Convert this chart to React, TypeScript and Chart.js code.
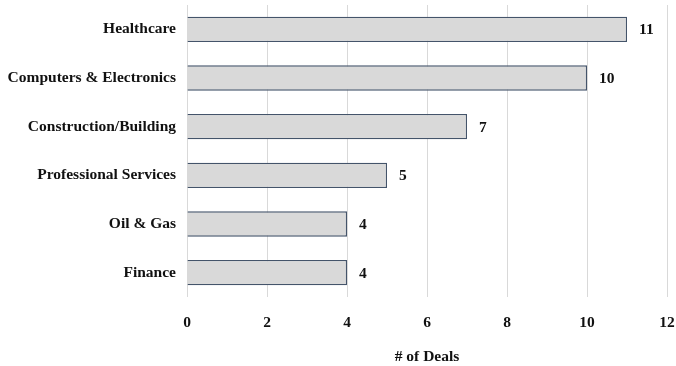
import React, { useEffect, useRef } from "react";
import { Chart, registerables } from "chart.js";

Chart.register(...registerables);

const categories = [
  "Healthcare",
  "Computers & Electronics",
  "Construction/Building",
  "Professional Services",
  "Oil & Gas",
  "Finance",
];
const deals = [11, 10, 7, 5, 4, 4];
const xTicks = [0, 2, 4, 6, 8, 10, 12];
const xTitle = "# of Deals";

const FONT = "'Liberation Serif', 'Times New Roman', serif";

const labelPlugin = {
  id: "valueLabels",
  afterDatasetsDraw(chart: any) {
    const ctx = chart.ctx;
    const meta = chart.getDatasetMeta(0);
    ctx.save();
    ctx.font = `bold 15.5px ${FONT}`;
    ctx.fillStyle = "#111111";
    ctx.textAlign = "left";
    ctx.textBaseline = "middle";
    meta.data.forEach((bar: any, i: number) => {
      ctx.fillText(String(deals[i]), bar.x + 12, bar.y + 1);
    });
    ctx.restore();
  },
};

export default function App() {
  const ref = useRef<HTMLCanvasElement | null>(null);
  useEffect(() => {
    if (!ref.current) return;
    const chart = new Chart(ref.current, {
      type: "bar",
      data: {
        labels: categories,
        datasets: [
          {
            data: deals,
            backgroundColor: "#d9d9d9",
            borderColor: "#44546a",
            borderWidth: 1.3,
            barPercentage: 0.52,
            categoryPercentage: 1,
          },
        ],
      },
      options: {
        indexAxis: "y",
        animation: false,
        responsive: false,
        maintainAspectRatio: false,
        layout: { padding: { top: 5, right: 9, left: 0, bottom: 0 } },
        plugins: {
          legend: { display: false },
          tooltip: { enabled: false },
        },
        scales: {
          x: {
            min: 0,
            max: 12,
            afterBuildTicks: (scale: any) => {
              scale.ticks = xTicks.map((v) => ({ value: v }));
            },
            afterFit: (scale: any) => {
              scale.height = 69;
              scale.paddingLeft = 0;
              scale.paddingRight = 0;
            },
            grid: { color: "#d9d9d9", drawTicks: false, lineWidth: 1 },
            border: { display: false },
            ticks: {
              padding: 17,
              color: "#111111",
              font: { family: FONT, size: 15.5, weight: "bold" },
            },
            title: {
              display: true,
              text: xTitle,
              color: "#111111",
              font: { family: FONT, size: 15.5, weight: "bold" },
              padding: { top: 12, bottom: 0 },
            },
          },
          y: {
            afterFit: (scale: any) => {
              scale.width = 187;
              scale.paddingTop = 0;
              scale.paddingBottom = 0;
            },
            grid: { display: false, drawTicks: false },
            border: { display: false },
            ticks: {
              padding: 11,
              color: "#111111",
              font: { family: FONT, size: 15.5, weight: "bold" },
            },
          },
        },
      },
      plugins: [labelPlugin],
    } as any);
    return () => chart.destroy();
  }, []);
  return (
    <div style={{ position: "absolute", left: 0, top: 0, width: 676, height: 366, background: "#ffffff" }}>
      <canvas ref={ref} width={676} height={366} style={{ width: 676, height: 366 }} />
    </div>
  );
}
